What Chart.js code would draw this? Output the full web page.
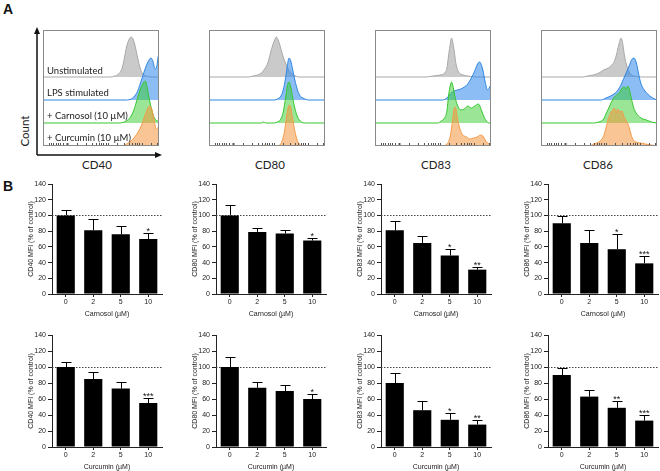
<!DOCTYPE html>
<html>
<head>
<meta charset="utf-8">
<script src="https://cdn.jsdelivr.net/npm/chart.js@4.4.0/dist/chart.umd.min.js"></script>
<style>
    body { margin: 0; background: #fff; }
    #fig { position: relative; width: 660px; height: 471px; overflow: hidden; font-family: "Liberation Sans", Arial, sans-serif; }
    #fig canvas { position: absolute; }
    .lbl { position: absolute; white-space: nowrap; color: #222; }
    .panel { font-weight: bold; font-size: 14px; color: #111; }
    .hist-title { font-family: Lato, "Open Sans", sans-serif; font-size: 11.5px; line-height: 14px; transform: translateX(-50%); }
    .sample { font-family: Lato, "Open Sans", sans-serif; font-size: 9.5px; line-height: 12px; }
    .count { font-family: Lato, "Open Sans", sans-serif; font-size: 11.5px; line-height: 14px; transform: translate(-50%, -50%) rotate(-90deg); }
</style>
</head>
<body>
<div id="fig">
    <div class="lbl panel" style="left:3px; top:1px;">A</div>
    <div class="lbl panel" style="left:3px; top:178px;">B</div>
    <div class="lbl count" style="left:25px; top:131px;">Count</div>
    <div class="lbl hist-title" style="left:97px; top:158px;">CD40</div>
    <div class="lbl hist-title" style="left:270px; top:158px;">CD80</div>
    <div class="lbl hist-title" style="left:436px; top:158px;">CD83</div>
    <div class="lbl hist-title" style="left:598px; top:158px;">CD86</div>
</div>
<script>
// Bar chart data (panel B)
const doseLabels = ['0', '2', '5', '10'];
const yTicks = [0, 20, 40, 60, 80, 100, 120, 140];

const carnosolCD40 = [100, 81, 76, 70];
const carnosolCD40Err = [6.5, 14, 10, 7];
const carnosolCD40Sig = ['', '', '', '*'];
const carnosolCD80 = [100, 79, 77, 68];
const carnosolCD80Err = [13, 5.5, 4.5, 3.5];
const carnosolCD80Sig = ['', '', '', '*'];
const carnosolCD83 = [81, 65, 49, 31];
const carnosolCD83Err = [12, 9, 8, 4];
const carnosolCD83Sig = ['', '', '*', '**'];
const carnosolCD86 = [90, 65, 57, 39];
const carnosolCD86Err = [9, 16, 19, 9];
const carnosolCD86Sig = ['', '', '*', '***'];

const curcuminCD40 = [100, 85, 73, 55];
const curcuminCD40Err = [6, 9, 8, 6.5];
const curcuminCD40Sig = ['', '', '', '***'];
const curcuminCD80 = [100, 74, 70, 60];
const curcuminCD80Err = [13, 7.5, 7, 6];
const curcuminCD80Sig = ['', '', '', '*'];
const curcuminCD83 = [80, 46, 34, 28];
const curcuminCD83Err = [12.5, 12, 8.5, 5.5];
const curcuminCD83Sig = ['', '', '*', '**'];
const curcuminCD86 = [90, 63, 49, 33];
const curcuminCD86Err = [9, 8, 9, 6.5];
const curcuminCD86Sig = ['', '', '**', '***'];

// Histogram data (panel A): [fluorescence position 0-100, count height]
const cd40Gray = [[58,0],[62,1],[65,3],[68,8],[70,18],[72,30],[74,37],[76,40],[78,37],[80,28],[82,17],[84,8],[86,3],[89,1],[93,0]];
const cd40Blue = [[72,0],[76,1],[79,4],[82,10],[84,17],[86,24],[88,31],[90,37],[92,41],[93,42],[95,38],[96.5,31],[98,33],[99.5,44],[100,44]];
const cd40Green = [[66,0],[70,1],[73,3],[76,7],[78,12],[80,19],[82,27],[84,34],[86,39],[88,42],[89,40],[90,34],[92,22],[94,12],[96,5],[100,1]];
const cd40Orange = [[68,0],[72,2],[76,5],[79,9],[82,14],[85,21],[88,31],[90,37],[92,40],[94,36],[96,25],[97.5,17],[99,18],[100,21]];

const cd80Gray = [[34,0],[38,1],[42,2],[45,4],[48,8],[51,15],[53,24],[55,32],[57,38],[58,40],[60,36],[62,28],[64,20],[66,14],[68,9],[70,5],[73,2],[78,0]];
const cd80Blue = [[56,0],[59,1],[62,4],[64,10],[66,22],[67.5,34],[69,42],[70.5,39],[72,31],[74,20],[76,11],[78,5],[81,2],[86,0]];
const cd80Green = [[45,0],[47,1],[49,0],[56,0],[59,1],[62,4],[64,11],[66,25],[67.5,37],[69,41],[70.5,36],[72,26],[74,15],[76,7],[78,3],[82,0]];
const cd80Orange = [[46,0],[48,1],[50,0],[59,0],[61,1],[63,5],[65,14],[66.5,26],[68,37],[69,41],[70.5,38],[72,28],[74,15],[76,6],[78,2],[80,0]];

const cd83Gray = [[44,0],[50,1],[56,2],[60,4],[62,9],[63.5,22],[65,34],[66,39],[67,35],[68.5,24],[70,12],[72,5],[76,2],[80,1],[88,0]];
const cd83Blue = [[58,0],[62,2],[65,6],[68,9],[71,10],[74,11],[77,13],[80,16],[83,22],[86,29],[88,35],[90,38],[91,37],[93,30],[95,18],[97,10],[98.5,12],[100,16]];
const cd83Green = [[54,0],[57,2],[60,5],[62,12],[63.5,28],[65,38],[66,41],[67,38],[69,26],[71,18],[74,13],[77,14],[80,17],[83,15],[86,17],[89,19],[90,18],[92,12],[94,6],[96,2],[98,0]];
const cd83Orange = [[58,0],[62,2],[64,6],[65.5,14],[67,27],[68,36],[69,39],[70,36],[71,28],[73,18],[75,12],[77,10],[79,9],[82,7],[85,8],[88,9],[91,11],[93,10],[95,6],[97,3],[100,2]];

const cd86Gray = [[36,0],[40,1],[45,2],[50,4],[54,7],[58,9],[61,12],[63,15],[65,22],[67,32],[69,39],[70.5,33],[72,21],[74,11],[76,5],[80,1],[90,0]];
const cd86Blue = [[52,0],[56,2],[60,4],[64,7],[67,11],[70,18],[73,26],[76,34],[78,40],[80,42],[82,38],[84,27],[86,17],[89,10],[92,6],[95,3],[98,1],[100,0]];
const cd86Green = [[44,0],[50,1],[54,4],[56,9],[58,14],[60,19],[62,24],[65,28],[68,31],[70,35],[72,36],[73,34],[75,37],[76,34],[78,24],[80,15],[82,10],[85,6],[88,4],[91,3],[95,1],[100,0]];
const cd86Orange = [[42,0],[45,2],[48,3],[51,5],[54,10],[56,18],[58,27],[60,33],[62,36],[63,38],[65,33],[66,37],[68,34],[70,35],[71,31],[73,26],[75,22],[77,14],[79,7],[82,4],[86,3],[90,2],[95,1],[100,0]];

// Small log-scale tick marks under the histograms
const histTicks = [5, 7, 9, 11, 13, 15, 17, 21, 29, 37, 42, 46, 48, 50, 52, 54, 56, 64, 70, 74, 77, 79, 81, 83, 85, 93, 98];

const sampleNames = ['Unstimulated', 'LPS stimulated', '+ Carnosol (10 \u00b5M)', '+ Curcumin (10 \u00b5M)'];

const HIST_COLORS = [
    { line: '#a8a8a8', fill: 'rgba(150,150,150,0.5)' },
    { line: '#2f86e0', fill: 'rgba(45,135,235,0.55)' },
    { line: '#35c62f', fill: 'rgba(55,205,45,0.5)' },
    { line: '#f29b4a', fill: 'rgba(245,150,60,0.55)' }
];
const ROW_OFFSETS = [69, 46, 23, 0];
const BOX_TOP = 30, BOX_SIZE = 116;
const FONT = '"Liberation Sans", Arial, sans-serif';

let charts = {};
const fig = document.getElementById('fig');

function addCanvas(left, top, width, height) {
    const c = document.createElement('canvas');
    c.width = width;
    c.height = height;
    c.style.left = left + 'px';
    c.style.top = top + 'px';
    c.style.width = width + 'px';
    c.style.height = height + 'px';
    fig.appendChild(c);
    return c;
}

// Box, tick marks and (for CD40) axis arrows around the histograms
const histFrame = {
    id: 'histFrame',
    afterDraw(chart, args, opts) {
        const { ctx, chartArea: a, scales } = chart;
        ctx.save();
        ctx.strokeStyle = '#8a8a8a';
        ctx.lineWidth = 1;
        ctx.strokeRect(Math.round(a.left) + 0.5, Math.round(a.top) + 0.5, Math.round(a.right - a.left) - 1, Math.round(a.bottom - a.top) - 1);
        ctx.strokeStyle = '#555';
        histTicks.forEach(t => {
            const x = Math.round(scales.x.getPixelForValue(t)) + 0.5;
            ctx.lineWidth = t === 21 ? 2 : 1;
            ctx.beginPath();
            ctx.moveTo(x, a.bottom - 1);
            ctx.lineTo(x, a.bottom - 3);
            ctx.stroke();
        });
        if (opts.arrows) {
            const x0 = a.left - 6, y0 = a.bottom + 9;
            ctx.strokeStyle = '#111';
            ctx.fillStyle = '#111';
            ctx.lineWidth = 1.5;
            ctx.beginPath();
            ctx.moveTo(x0, y0);
            ctx.lineTo(x0, a.top + 2);
            ctx.moveTo(x0, y0);
            ctx.lineTo(a.right - 1, y0);
            ctx.stroke();
            ctx.beginPath();
            ctx.moveTo(x0, a.top - 3);
            ctx.lineTo(x0 - 3, a.top + 4);
            ctx.lineTo(x0 + 3, a.top + 4);
            ctx.closePath();
            ctx.fill();
            ctx.beginPath();
            ctx.moveTo(a.right + 3, y0);
            ctx.lineTo(a.right - 4, y0 - 3);
            ctx.lineTo(a.right - 4, y0 + 3);
            ctx.closePath();
            ctx.fill();
        }
        ctx.restore();
    }
};

function histDataset(points, row) {
    const pts = points.slice();
    if (pts[0][0] > 0) pts.unshift([0, 0]);
    if (pts[pts.length - 1][0] < 100) pts.push([100, 0]);
    const offset = ROW_OFFSETS[row];
    return {
        data: pts.map(p => ({ x: p[0], y: offset + p[1] })),
        borderColor: HIST_COLORS[row].line,
        backgroundColor: HIST_COLORS[row].fill,
        borderWidth: 1,
        pointRadius: 0,
        tension: 0.4,
        cubicInterpolationMode: 'monotone',
        fill: { value: offset },
        clip: 0,
        order: 4 - row
    };
}

function makeHistogram(key, boxLeft, series, arrows) {
    const pad = arrows ? { left: 29, right: 4, top: 4, bottom: 14 } : { left: 2, right: 2, top: 2, bottom: 2 };
    const canvas = addCanvas(boxLeft - pad.left, BOX_TOP - pad.top, BOX_SIZE + pad.left + pad.right, BOX_SIZE + pad.top + pad.bottom);
    charts[key] = new Chart(canvas.getContext('2d'), {
        type: 'line',
        data: { datasets: series.map((s, i) => histDataset(s, i)) },
        options: {
            responsive: false,
            animation: false,
            devicePixelRatio: 1,
            events: [],
            layout: { padding: pad },
            scales: {
                x: { type: 'linear', min: 0, max: 100, display: false },
                y: { min: 0, max: BOX_SIZE, display: false }
            },
            plugins: { legend: { display: false }, tooltip: { enabled: false }, histFrame: { arrows: arrows } }
        },
        plugins: [histFrame]
    });
}

// Dotted reference line at 100 %, error bars and significance stars
const barExtras = {
    id: 'barExtras',
    beforeDatasetsDraw(chart) {
        const { ctx, chartArea: a, scales } = chart;
        const y = Math.round(scales.y.getPixelForValue(100)) + 0.5;
        ctx.save();
        ctx.strokeStyle = '#444';
        ctx.lineWidth = 1;
        ctx.setLineDash([1.5, 1.5]);
        ctx.beginPath();
        ctx.moveTo(a.left, y);
        ctx.lineTo(a.right, y);
        ctx.stroke();
        ctx.restore();
    },
    afterDatasetsDraw(chart, args, opts) {
        const { ctx, scales } = chart;
        const meta = chart.getDatasetMeta(0);
        const values = chart.data.datasets[0].data;
        ctx.save();
        ctx.strokeStyle = '#000';
        ctx.fillStyle = '#111';
        ctx.lineWidth = 1;
        ctx.font = '9px ' + FONT;
        ctx.textAlign = 'center';
        ctx.textBaseline = 'alphabetic';
        meta.data.forEach((bar, i) => {
            const x = Math.round(bar.x) + 0.5;
            const yTop = Math.round(scales.y.getPixelForValue(values[i] + opts.errors[i])) + 0.5;
            ctx.beginPath();
            ctx.moveTo(x, bar.y);
            ctx.lineTo(x, yTop);
            ctx.moveTo(x - 5, yTop);
            ctx.lineTo(x + 5, yTop);
            ctx.stroke();
            if (opts.stars[i]) ctx.fillText(opts.stars[i], bar.x, yTop);
        });
        ctx.restore();
    }
};

function makeBarChart(key, axisX, y140, plotH, values, errors, stars, yTitle, xTitle) {
    const yW = 25, xH = 24, padTop = 8, padRight = 2, plotW = 110;
    const canvas = addCanvas(axisX - yW, y140 - padTop, yW + plotW + padRight, padTop + plotH + xH);
    const font = { family: FONT, size: 7 };
    charts[key] = new Chart(canvas.getContext('2d'), {
        type: 'bar',
        data: {
            labels: doseLabels,
            datasets: [{
                data: values,
                backgroundColor: '#000',
                borderWidth: 0,
                barPercentage: 0.66,
                categoryPercentage: 1
            }]
        },
        options: {
            responsive: false,
            animation: false,
            devicePixelRatio: 1,
            events: [],
            layout: { padding: { left: 0, right: padRight, top: padTop, bottom: 0 } },
            scales: {
                x: {
                    grid: { drawOnChartArea: false, tickLength: 3, color: '#222', offset: false },
                    border: { color: '#222', width: 1 },
                    ticks: { color: '#222', font: font, padding: 1, maxRotation: 0 },
                    title: { display: true, text: xTitle, color: '#222', font: font, padding: 0 },
                    afterFit: s => { s.height = xH; }
                },
                y: {
                    min: 0,
                    max: 140,
                    afterBuildTicks: s => { s.ticks = yTicks.map(v => ({ value: v })); },
                    grid: { drawOnChartArea: false, tickLength: 4, color: '#222' },
                    border: { color: '#222', width: 1 },
                    ticks: { color: '#222', font: font, padding: 2 },
                    title: { display: true, text: yTitle, color: '#222', font: font, padding: 0 },
                    afterFit: s => { s.width = yW; }
                }
            },
            plugins: {
                legend: { display: false },
                tooltip: { enabled: false },
                barExtras: { errors: errors, stars: stars }
            }
        },
        plugins: [barExtras]
    });
}

function addSampleLabels() {
    const centers = [71, 93, 116, 138];
    sampleNames.forEach((name, i) => {
        const d = document.createElement('div');
        d.className = 'lbl sample';
        d.style.left = '47px';
        d.style.top = (centers[i] - 6) + 'px';
        d.textContent = name;
        fig.appendChild(d);
    });
}

function initCharts() {
    makeHistogram('cd40', 43, [cd40Gray, cd40Blue, cd40Green, cd40Orange], true);
    makeHistogram('cd80', 209, [cd80Gray, cd80Blue, cd80Green, cd80Orange], false);
    makeHistogram('cd83', 375, [cd83Gray, cd83Blue, cd83Green, cd83Orange], false);
    makeHistogram('cd86', 541, [cd86Gray, cd86Blue, cd86Green, cd86Orange], false);
    addSampleLabels();

    const axes = [52, 216, 381, 548];
    const carnX = 'Carnosol (\u00b5M)', curcX = 'Curcumin (\u00b5M)';
    makeBarChart('carnCD40', axes[0], 184, 110, carnosolCD40, carnosolCD40Err, carnosolCD40Sig, 'CD40 MFI (% of control)', carnX);
    makeBarChart('carnCD80', axes[1], 184, 110, carnosolCD80, carnosolCD80Err, carnosolCD80Sig, 'CD80 MFI (% of control)', carnX);
    makeBarChart('carnCD83', axes[2], 184, 110, carnosolCD83, carnosolCD83Err, carnosolCD83Sig, 'CD83 MFI (% of control)', carnX);
    makeBarChart('carnCD86', axes[3], 184, 110, carnosolCD86, carnosolCD86Err, carnosolCD86Sig, 'CD86 MFI (% of control)', carnX);
    makeBarChart('curcCD40', axes[0], 335, 112, curcuminCD40, curcuminCD40Err, curcuminCD40Sig, 'CD40 MFI (% of control)', curcX);
    makeBarChart('curcCD80', axes[1], 335, 112, curcuminCD80, curcuminCD80Err, curcuminCD80Sig, 'CD80 MFI (% of control)', curcX);
    makeBarChart('curcCD83', axes[2], 335, 112, curcuminCD83, curcuminCD83Err, curcuminCD83Sig, 'CD83 MFI (% of control)', curcX);
    makeBarChart('curcCD86', axes[3], 335, 112, curcuminCD86, curcuminCD86Err, curcuminCD86Sig, 'CD86 MFI (% of control)', curcX);
}

initCharts();
</script>
</body>
</html>
